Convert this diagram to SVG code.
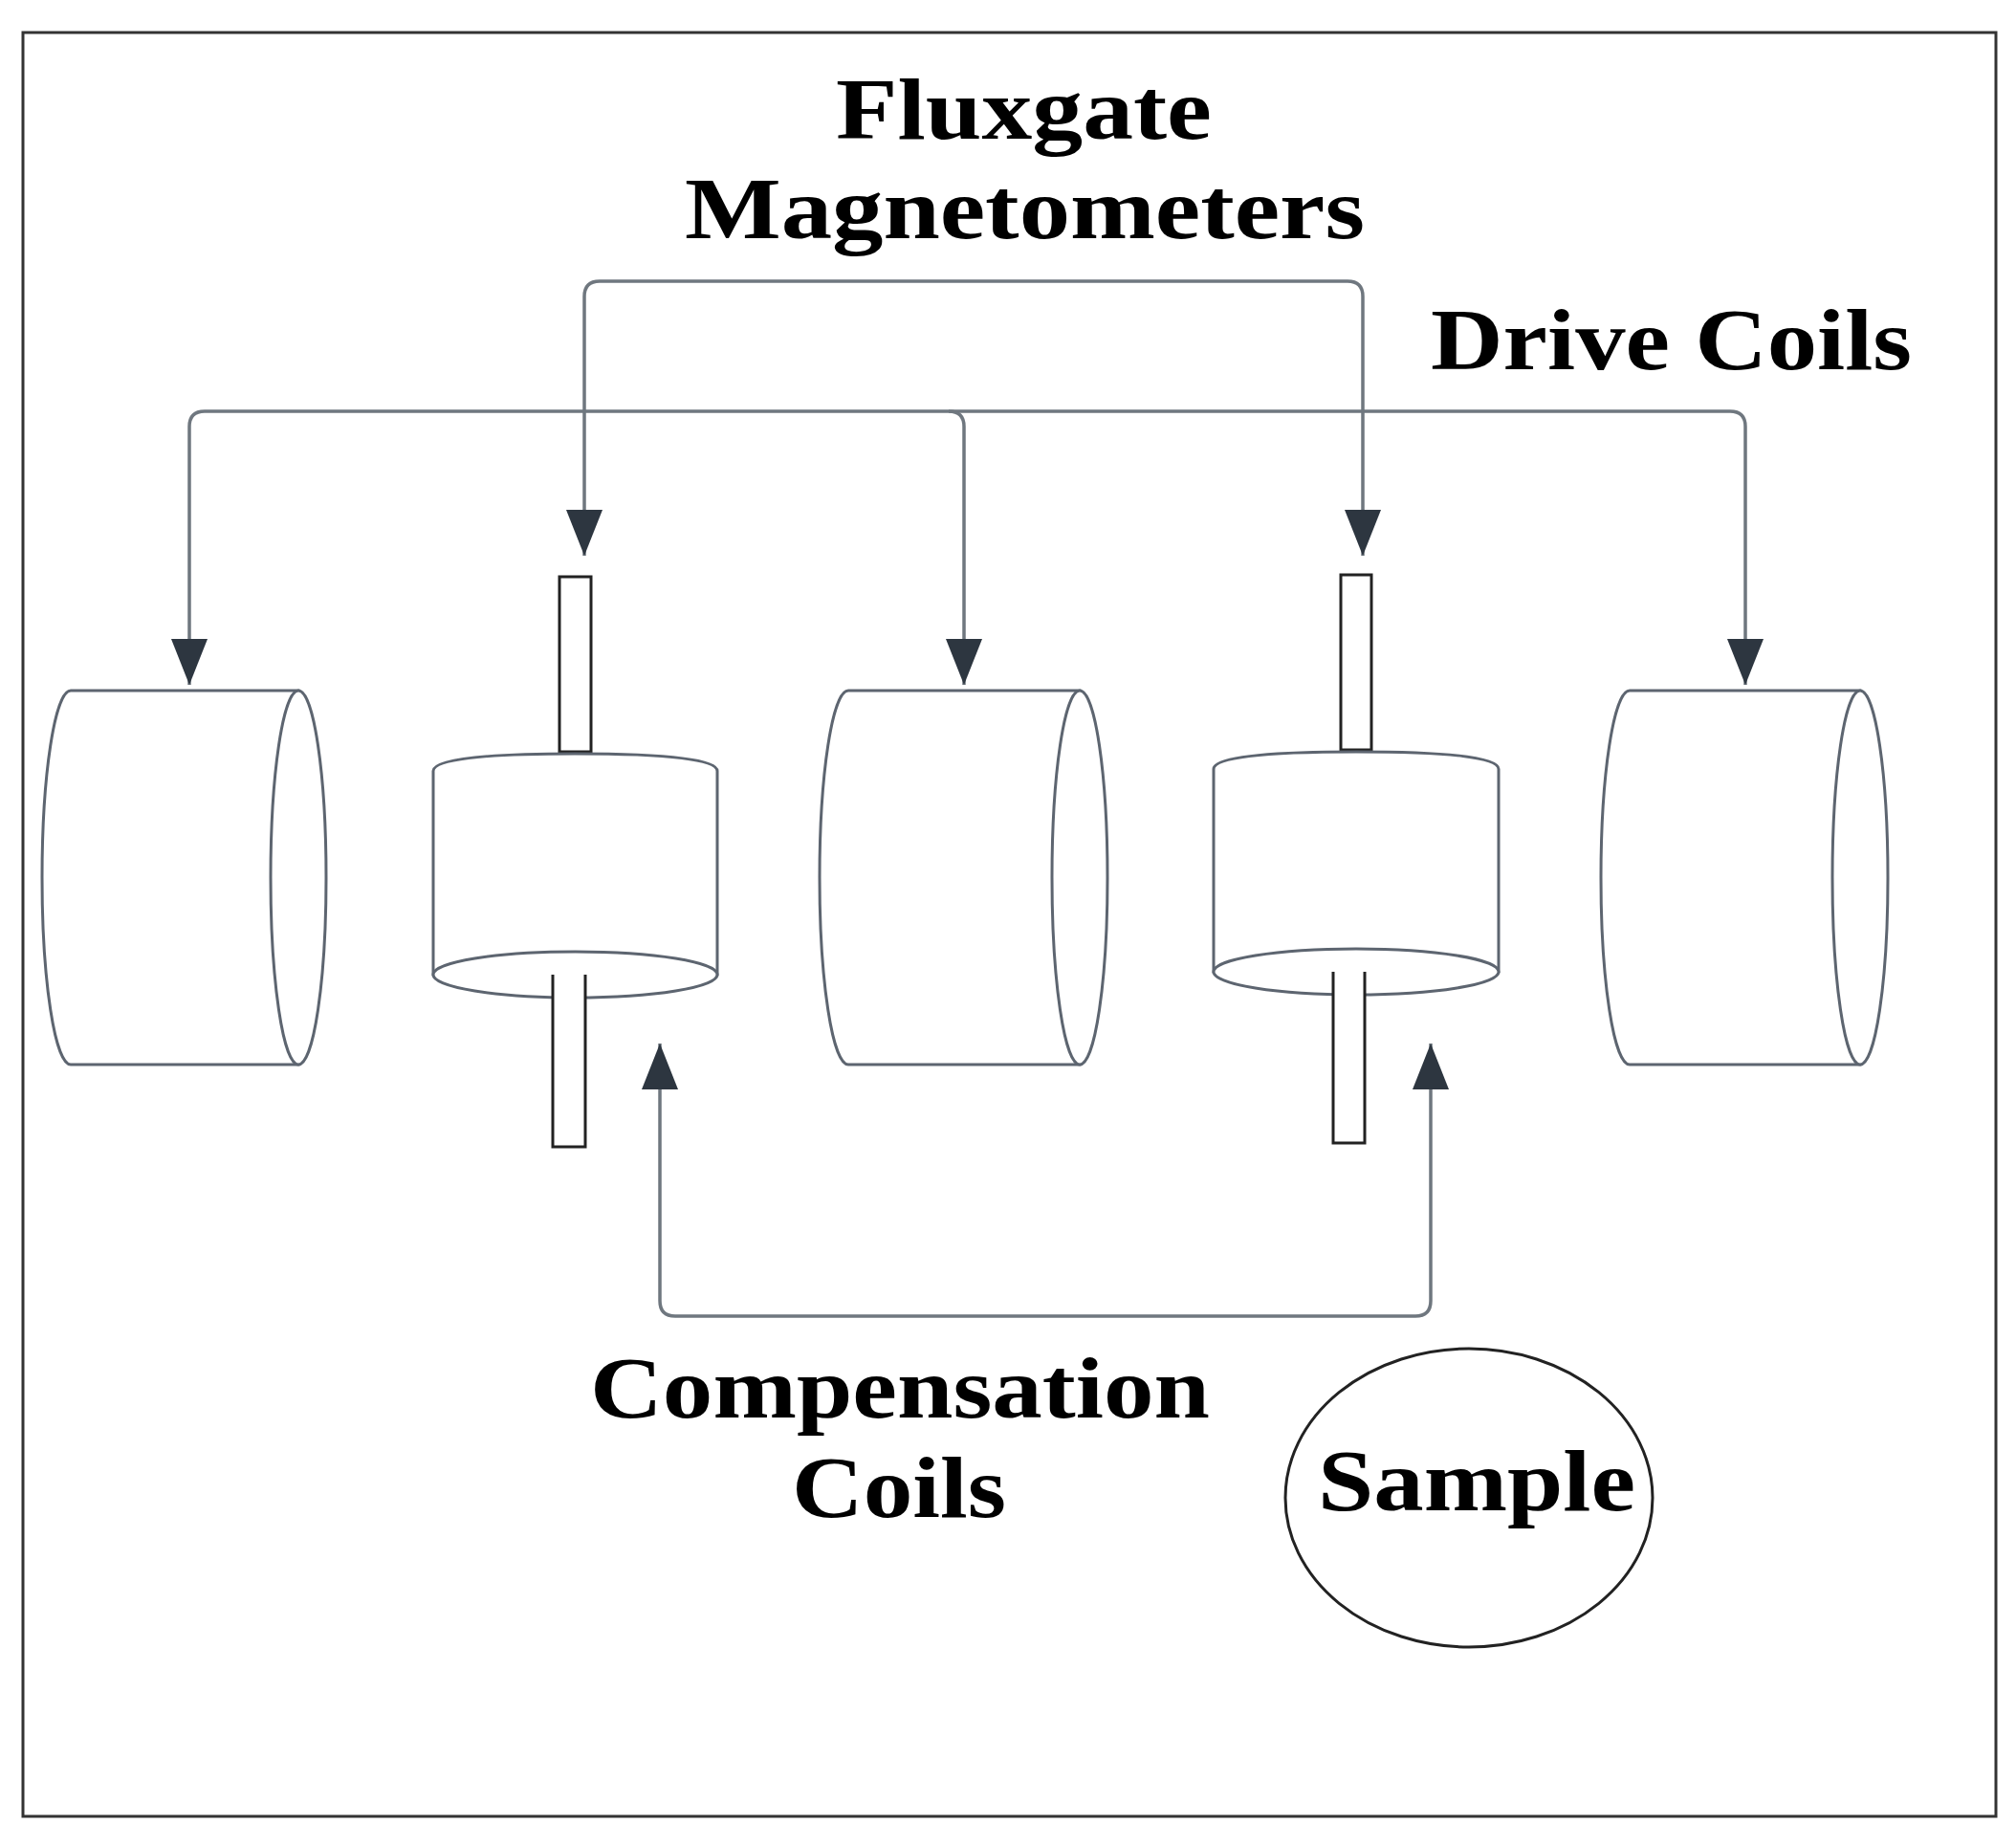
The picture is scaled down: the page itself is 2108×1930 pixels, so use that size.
<svg xmlns="http://www.w3.org/2000/svg" width="2108" height="1930" viewBox="0 0 2108 1930">
<style>
.conn{fill:none;stroke:#6f777f;stroke-width:3.5}
.shape{fill:#fff;stroke:#5d6570;stroke-width:3}
.rod{fill:#fff;stroke:#222;stroke-width:3}
.lbl{font-family:"Liberation Serif",serif;font-weight:bold;font-size:92px;fill:#000}
</style>
<defs>
<marker id="ah" viewBox="0 0 48 38" refX="48" refY="19" markerWidth="48" markerHeight="38" markerUnits="userSpaceOnUse" orient="auto"><path d="M0,0 L48,19 L0,38 Z" fill="#2d3640"/></marker>
</defs>
<rect width="2108" height="1930" fill="#fff"/>
<rect x="24" y="34" width="2063" height="1865" fill="none" stroke="#333" stroke-width="3"/>
<g id="connectors">
<path class="conn" d="M1018,294 H627 Q611,294 611,310 V581" marker-end="url(#ah)"/>
<path class="conn" d="M1018,294 H1409 Q1425,294 1425,310 V581" marker-end="url(#ah)"/>
<path class="conn" d="M700,430 H214 Q198,430 198,446 V716" marker-end="url(#ah)"/>
<path class="conn" d="M700,430 H1809 Q1825,430 1825,446 V716" marker-end="url(#ah)"/>
<path class="conn" d="M992,430 Q1008,430 1008,446 V716" marker-end="url(#ah)"/>
<path class="conn" d="M1090,1376 H706 Q690,1376 690,1360 V1091" marker-end="url(#ah)"/>
<path class="conn" d="M1090,1376 H1480 Q1496,1376 1496,1360 V1091" marker-end="url(#ah)"/>
</g>
<g id="drive1"><path class="shape" d="M74,722 H312 V1113 H74 A30,195.5 0 0 1 74,722 Z"/><ellipse class="shape" cx="312" cy="917.5" rx="29" ry="195.5"/></g>
<g id="drive2"><path class="shape" d="M887,722 H1129 V1113 H887 A30,195.5 0 0 1 887,722 Z"/><ellipse class="shape" cx="1129" cy="917.5" rx="29" ry="195.5"/></g>
<g id="drive3"><path class="shape" d="M1704,722 H1945 V1113 H1704 A30,195.5 0 0 1 1704,722 Z"/><ellipse class="shape" cx="1945" cy="917.5" rx="29" ry="195.5"/></g>
<g id="mag1">
<rect class="rod" x="585" y="603" width="33" height="183"/>
<path class="shape" d="M453,806 Q453,788 601,788 Q750,788 750,806 V1019 H453 Z"/>
<ellipse class="shape" cx="601.5" cy="1019" rx="148.5" ry="24"/>
<path class="rod" d="M578,1019 V1199 H612 V1019"/>
</g>
<g id="mag2">
<rect class="rod" x="1402" y="601" width="32" height="183"/>
<path class="shape" d="M1269,804 Q1269,786 1418,786 Q1567,786 1567,804 V1016 H1269 Z"/>
<ellipse class="shape" cx="1418" cy="1016" rx="149" ry="24"/>
<path class="rod" d="M1394,1016 V1195 H1427 V1016"/>
</g>
<g id="sample"><ellipse cx="1536" cy="1566" rx="192" ry="156" fill="none" stroke="#222" stroke-width="3"/>
<text class="lbl" x="1378" y="1579" textLength="332" lengthAdjust="spacingAndGlyphs">Sample</text></g>
<g id="labels">
<text class="lbl" x="874" y="145" textLength="393" lengthAdjust="spacingAndGlyphs">Fluxgate</text>
<text class="lbl" x="716" y="249" textLength="711" lengthAdjust="spacingAndGlyphs">Magnetometers</text>
<text class="lbl" x="1496" y="386" textLength="503" lengthAdjust="spacingAndGlyphs">Drive Coils</text>
<text class="lbl" x="617" y="1482" textLength="648" lengthAdjust="spacingAndGlyphs">Compensation</text>
<text class="lbl" x="828" y="1586" textLength="224" lengthAdjust="spacingAndGlyphs">Coils</text>
</g>
</svg>
